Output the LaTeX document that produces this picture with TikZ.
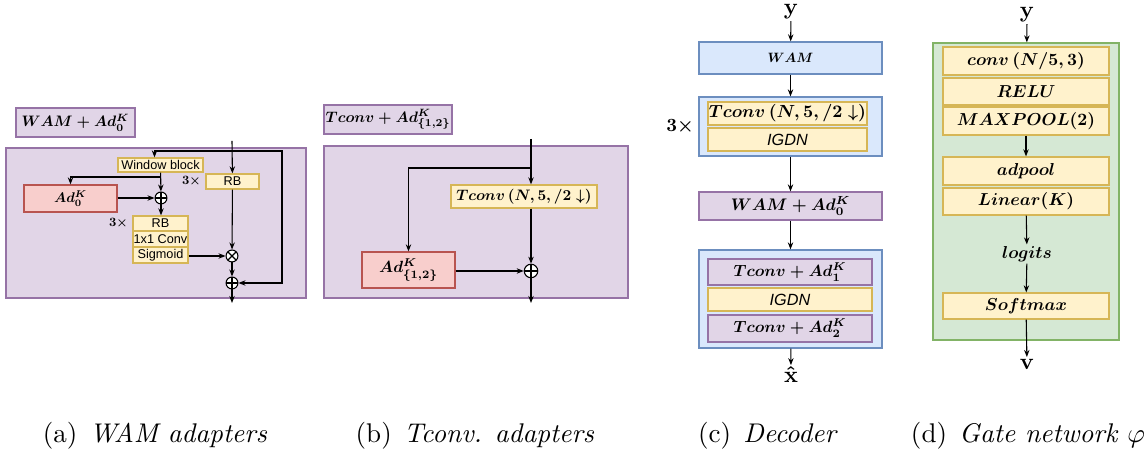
\documentclass[tikz,border=0pt]{standalone}
\usepackage{amsmath}
\usepackage{graphicx}
\usepackage{fontspec}
\newfontfamily\drawsans{Liberation Sans}
\usepackage{xcolor}
\usepackage{tikz}
\usetikzlibrary{positioning}
\usetikzlibrary{calc}
\usetikzlibrary{arrows.meta}

\definecolor{pfill}{HTML}{E1D5E7}
\definecolor{pline}{HTML}{9673A6}
\definecolor{rfill}{HTML}{F8CECC}
\definecolor{rline}{HTML}{B85450}
\definecolor{yfill}{HTML}{FFF2CC}
\definecolor{yline}{HTML}{D6B656}
\definecolor{bfill}{HTML}{DAE8FC}
\definecolor{bline}{HTML}{6C8EBF}
\definecolor{gfill}{HTML}{D5E8D4}
\definecolor{gline}{HTML}{82B366}

\newcommand{\pxu}{0.37pt}
\newcommand{\mtxt}[2][0.56]{\scalebox{#1}{$\boldsymbol{#2}$}}
\newcommand{\sfs}{\fontsize{4.7}{5.5}\selectfont\drawsans}
\newcommand{\ifs}{\fontsize{6}{7}\selectfont\drawsans\itshape}

\tikzset{
    sz/.style 2 args={minimum width=#1*\pxu, minimum height=#2*\pxu},
    blk/.style={draw, inner sep=0pt, line width=0.45pt},
    purpleblk/.style={blk, fill=pfill, draw=pline},
    redblk/.style={blk, fill=rfill, draw=rline},
    yellowblk/.style={blk, fill=yfill, draw=yline},
    blueblk/.style={blk, fill=bfill, draw=bline},
    greenblk/.style={blk, fill=gfill, draw=gline},
    arr/.style={-{Stealth[length=2.6pt,width=2pt]}, line width=0.4pt},
    sumnode/.style={circle, draw, fill=white, line width=0.4pt, inner sep=0pt, minimum size=4.4pt,
        path picture={\draw[line width=0.4pt] (path picture bounding box.north) -- (path picture bounding box.south)
            (path picture bounding box.west) -- (path picture bounding box.east);}},
    prodnode/.style={circle, draw, fill=white, line width=0.4pt, inner sep=0pt, minimum size=4.4pt,
        path picture={\draw[line width=0.4pt] (path picture bounding box.north west) -- (path picture bounding box.south east)
            (path picture bounding box.south west) -- (path picture bounding box.north east);}},
    lbl/.style={inner sep=0.5pt},
    captxt/.style={inner sep=0pt, font=\normalsize},
}

\begin{document}
\begin{tikzpicture}[x=0.37pt, y=-0.37pt]
    \useasboundingbox (0,0) rectangle (1146,451);

    % (a) WAM adapters
    \node[purpleblk, sz={119}{29}] (atitle) at (75.5,122.5) {\mtxt{WAM+Ad_0^K}};
    \node[purpleblk, sz={300}{150}] (abg) at (156,223) {};
    \coordinate (ain) at (232,141);
    \coordinate (asplit) at (232,151);
    \node[yellowblk, sz={85}{14}, font=\sfs] (win) at (160.5,165) {Window block};
    \node[yellowblk, sz={53}{15}, font=\sfs] (rbr) at (232.5,181.5) {RB};
    \node[lbl, left=1pt of rbr] (rbrn) {\mtxt[0.47]{3\times}};
    \node[redblk, sz={93}{27}] (ad0) at (70.5,198.5) {\mtxt[0.52]{Ad_0^K}};
    \node[sumnode] (asum1) at (161,198) {};
    \coordinate (abr) at (161,177);
    \node[yellowblk, sz={55}{15}, font=\sfs] (rbl) at (160.5,223.5) {RB};
    \node[yellowblk, sz={55}{16}, font=\sfs] (conv1) at (160.5,239) {1x1 Conv};
    \node[yellowblk, sz={55}{16}, font=\sfs] (sig) at (160.5,255) {Sigmoid};
    \node[lbl, left=1pt of rbl] (rbln) {\mtxt[0.47]{3\times}};
    \node[prodnode] (aprod) at (232,256) {};
    \node[sumnode] (asum2) at (232,283) {};
    \coordinate (aout) at (232,303);

    \draw[arr] (ain) -- (rbr);
    \draw[arr] (asplit) -| ($(win.north)+(-6,0)$);
    \draw[arr] (asplit) -- ++(50,0) |- (asum2);
    \draw[arr] (win) -- (asum1);
    \draw[arr] (abr) -| (ad0);
    \draw[arr] (ad0.east |- asum1) -- (asum1);
    \draw[arr] (asum1) -- (asum1 |- rbl.north);
    \draw[arr] (sig.east |- aprod) -- (aprod);
    \draw[arr] (rbr) -- (aprod);
    \draw[arr] (aprod) -- (asum2);
    \draw[arr] (asum2) -- (aout);

    % (b) Tconv adapters
    \node[purpleblk, sz={128}{29}] (btitle) at (388,119.5) {\mtxt{Tconv+Ad_{\{1,2\}}^K}};
    \node[purpleblk, sz={304}{152}] (bbg) at (476,222) {};
    \coordinate (bin) at (531,139);
    \coordinate (bsplit) at (531,168);
    \node[yellowblk, sz={146}{23}] (btconv) at (524,196.5) {\mtxt{Tconv\,(N,5,/2\downarrow)}};
    \node[redblk, sz={93}{36}] (bad) at (408.5,270) {\mtxt[0.6]{Ad_{\{1,2\}}^K}};
    \node[sumnode, minimum size=5pt] (bsum) at (531,271) {};
    \coordinate (bout) at (531,303);

    \draw[arr] (bin) -- (bin |- btconv.north);
    \draw[arr] (bsplit) -| (bad);
    \draw[arr] (bsum |- btconv.south) -- (bsum);
    \draw[arr] (bad.east |- bsum) -- (bsum);
    \draw[arr] (bsum) -- (bout);

    % (c) Decoder
    \node[lbl] (cy) at (791,12) {\mtxt[0.85]{\mathbf{y}}};
    \node[blueblk, sz={183}{32}] (cwam) at (790.5,58) {\mtxt[0.5]{WAM}};
    \node[blueblk, sz={183}{59}] (cg1) at (790.5,126.5) {};
    \node[yellowblk, sz={159}{23}] (ctconv) at (787.5,113.5) {\mtxt[0.65]{Tconv\,(N,5,/2\downarrow)}};
    \node[yellowblk, sz={159}{23}, font=\ifs] (cigdn) at (787.5,139.5) {IGDN};
    \node[lbl] (cthree) at (680,127) {\mtxt[0.69]{3\times}};
    \node[purpleblk, sz={183}{28}] (cwamad) at (790.5,206) {\mtxt[0.62]{WAM+Ad_0^K}};
    \node[blueblk, sz={183}{98}] (cg2) at (790.5,299) {};
    \node[purpleblk, sz={164}{26}] (cta1) at (790,272) {\mtxt[0.6]{Tconv+Ad_1^K}};
    \node[yellowblk, sz={164}{23}, font=\ifs] (cigdn2) at (790,299.5) {IGDN};
    \node[purpleblk, sz={164}{27}] (cta2) at (790,328.5) {\mtxt[0.6]{Tconv+Ad_2^K}};
    \node[lbl] (cx) at (791,375) {\mtxt[0.85]{\hat{\mathbf{x}}}};

    \draw[arr] (cy) -- (cwam);
    \draw[arr] (cwam) -- (cg1);
    \draw[arr] (cg1) -- (cwamad);
    \draw[arr] (cwamad) -- (cg2);
    \draw[arr] (cg2) -- (cx);

    % (d) Gate network
    \node[lbl] (dy) at (1027,15) {\mtxt[0.85]{\mathbf{y}}};
    \node[greenblk, sz={186}{297}] (dbg) at (1026,191.5) {};
    \node[yellowblk, sz={166}{28}] (dconv) at (1026,61) {\mtxt[0.64]{conv\,(N/5,3)}};
    \node[yellowblk, sz={166}{27}] (drelu) at (1026,91.5) {\mtxt[0.64]{RELU}};
    \node[yellowblk, sz={166}{28}] (dmax) at (1026,121) {\mtxt[0.64]{MAXPOOL(2)}};
    \node[yellowblk, sz={166}{28}] (dadp) at (1026,171) {\mtxt[0.64]{adpool}};
    \node[yellowblk, sz={166}{27}] (dlin) at (1026,201.5) {\mtxt[0.64]{Linear(K)}};
    \node[lbl] (dlog) at (1027,254) {\mtxt[0.64]{logits}};
    \node[yellowblk, sz={166}{26}] (dsoft) at (1026,306) {\mtxt[0.64]{Softmax}};
    \node[lbl] (dv) at (1027,364) {\mtxt[0.85]{\mathbf{v}}};

    \draw[arr] (dy) -- (dbg);
    \draw[arr] (dmax) -- (dadp);
    \draw[arr] (dlin) -- (dlog);
    \draw[arr] (dlog) -- (dsoft);
    \draw[arr] (dsoft) -- (dv);

    % captions
    \node[captxt] (capa) at (155,436) {(a)\hspace{0.45em}\textit{WAM adapters}};
    \node[captxt] (capb) at (475,436) {(b)\hspace{0.45em}\textit{Tconv. adapters}};
    \node[captxt] (capc) at (768,436) {(c)\hspace{0.45em}\textit{Decoder}};
    \node[captxt] (capd) at (1028,436) {(d)\hspace{0.45em}\textit{Gate network} $\varphi$};
\end{tikzpicture}
\end{document}
